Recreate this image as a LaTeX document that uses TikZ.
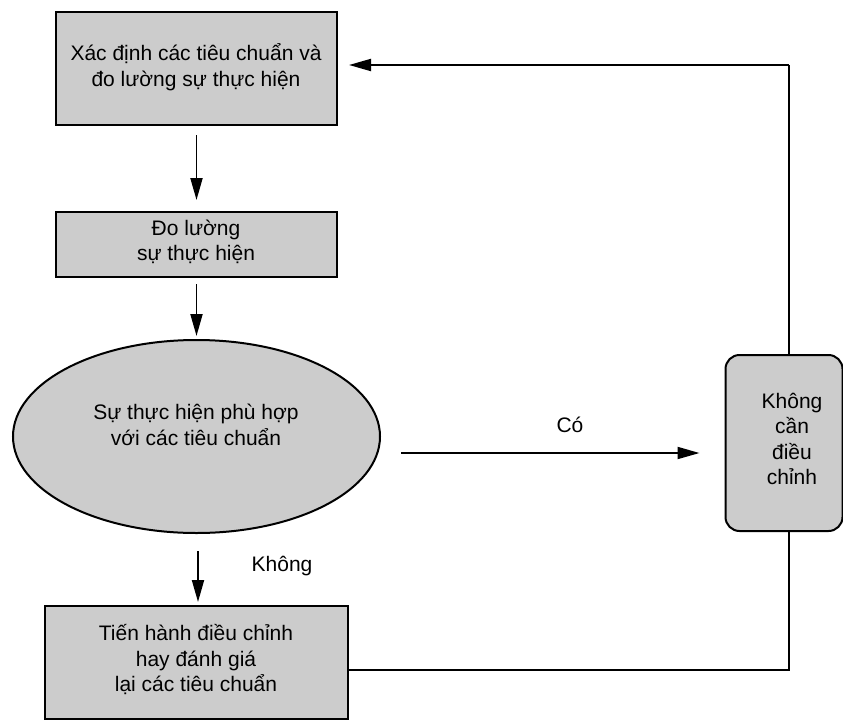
\documentclass[tikz,border=0pt]{standalone}
\usepackage{fontspec}
\setmainfont{Liberation Sans}
\usetikzlibrary{arrows.meta,shapes.geometric}
\definecolor{boxgray}{HTML}{CCCCCC}
\begin{document}
\begin{tikzpicture}[x=1pt,y=-1pt,
  box/.style={draw,line width=2pt,fill=boxgray,inner sep=0pt},
  lbl/.style={font=\fontsize{21}{25.5}\selectfont,align=center,inner sep=0pt},
  flow/.style={line width=1.9pt,-{Triangle[length=22pt,width=12pt]}},
  link/.style={line width=1.9pt}]
\useasboundingbox (0,0) rectangle (843,720);

% process steps
\node[box,minimum width=281pt,minimum height=113pt] (define) at (196.5,68.5) {};
\node[lbl] (defineText) at (196,67) {Xác định các tiêu chuẩn và\\đo lường sự thực hiện};

\node[box,minimum width=281pt,minimum height=65pt] (measure) at (196.5,244.5) {};
\node[lbl] (measureText) at (196,242) {Đo lường\\sự thực hiện};

\node[box,ellipse,minimum width=367pt,minimum height=193pt] (check) at (196.5,436.5) {};
\node[lbl] (checkText) at (196,425) {Sự thực hiện phù hợp\\với các tiêu chuẩn};

\node[box,minimum width=303pt,minimum height=113pt] (adjust) at (196.5,662.5) {};
\node[lbl] (adjustText) at (196,660) {Tiến hành điều chỉnh\\hay đánh giá\\lại các tiêu chuẩn};

% feedback loop back to the first step
\coordinate (loopBottom) at (789,670);
\coordinate (loopTop) at (789,65);
\draw[link] ([yshift=-7.5pt]adjust.east) -- (loopBottom) -- (loopTop);
\draw[flow,shorten >=11pt] (loopTop) -- ([yshift=3.5pt]define.east);

% no-adjustment outcome
\node[box,rounded corners=14pt,minimum width=117pt,minimum height=176pt] (noadjust) at (784,443) {};
\node[lbl] (noadjustText) at (792,439) {Không\\cần\\điều\\chỉnh};

% main flow arrows
\draw[flow,shorten <=9pt,shorten >=11pt] (define.south) -- (measure.north);
\draw[flow,shorten <=6pt,shorten >=3pt] (measure.south) -- (check.north);
\draw[flow,shorten <=17pt,shorten >=3pt] ([xshift=1.5pt]check.south) -- ([xshift=1.5pt]adjust.north);
\draw[flow,shorten <=20pt,shorten >=25pt] ([yshift=-16.5pt]check.east) -- ([yshift=-10pt]noadjust.west);

% branch labels
\node[lbl] (yesLabel) at (570,425) {Có};
\node[lbl] (noLabel) at (282,566) {Không};
\end{tikzpicture}
\end{document}
